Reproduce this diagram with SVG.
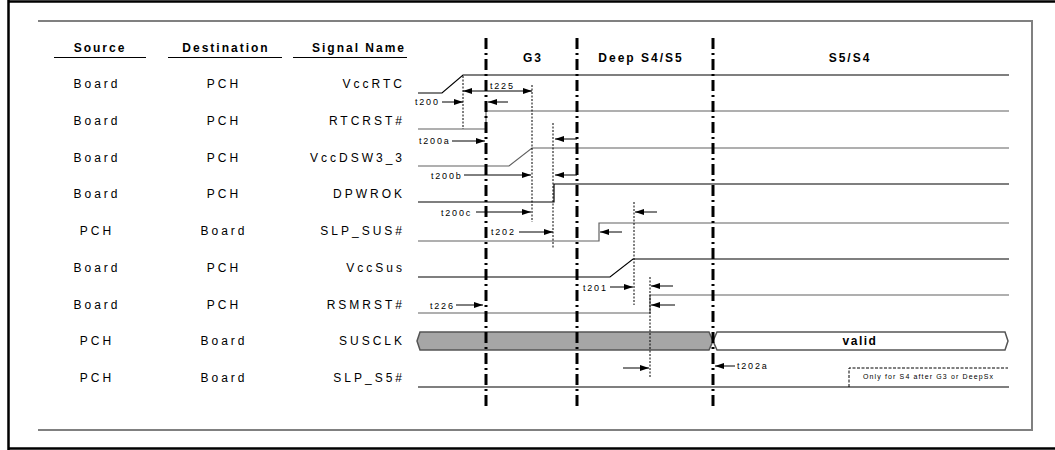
<svg xmlns="http://www.w3.org/2000/svg" width="1055" height="450" viewBox="0 0 1055 450">
<style>
.frame{fill:none;stroke:#000;stroke-width:2.5}
.gframe{fill:none;stroke:#808080;stroke-width:2}
.hdr{font-family:"Liberation Sans",Arial,sans-serif;font-size:12px;font-weight:bold;letter-spacing:2px;fill:#000}
.lbl{font-family:"Liberation Sans",Arial,sans-serif;font-size:12px;letter-spacing:3px;fill:#000}
.t{font-family:"Liberation Sans",Arial,sans-serif;font-size:9px;letter-spacing:1.8px;fill:#000}
.ul{stroke:#000;stroke-width:1}
.sig{fill:none;stroke:#000;stroke-width:1.2}
.sigg{fill:none;stroke:#606060;stroke-width:1.2}
.phase{stroke:#000;stroke-width:3;stroke-dasharray:11 4 2 4}
.dot{stroke:#000;stroke-width:1;stroke-dasharray:2 1.5}
.arr{stroke:#000;stroke-width:1;fill:none;marker-end:url(#ah)}
</style>
<defs>
<marker id="ah" markerWidth="9" markerHeight="6" refX="9" refY="3" orient="auto-start-reverse" markerUnits="userSpaceOnUse">
<path d="M0,0 L9,3 L0,6 z" fill="#000"/>
</marker>
</defs>
<g id="frame">
<path class="frame" d="M8.5,0 V450 M8,1.5 H1055 M8,448.5 H1055"/>
<path class="gframe" d="M38,21 H1032 V430 H38"/>
</g>
<g id="headers">
<text class="hdr" x="100" y="52" text-anchor="middle">Source</text>
<line class="ul" x1="54" y1="57.5" x2="146" y2="57.5"/>
<text class="hdr" x="226" y="52" text-anchor="middle">Destination</text>
<line class="ul" x1="168" y1="57.5" x2="282" y2="57.5"/>
<text class="hdr" x="359" y="52" text-anchor="middle">Signal Name</text>
<line class="ul" x1="293" y1="57.5" x2="407" y2="57.5"/>
<text class="hdr" x="533" y="62" text-anchor="middle">G3</text>
<text class="hdr" x="641" y="62" text-anchor="middle">Deep S4/S5</text>
<text class="hdr" x="850" y="62" text-anchor="middle">S5/S4</text>
</g>
<g id="labels">
<text class="lbl" x="97" y="88" text-anchor="middle">Board</text>
<text class="lbl" x="224" y="88" text-anchor="middle">PCH</text>
<text class="lbl" x="405" y="88" text-anchor="end">VccRTC</text>
<text class="lbl" x="97" y="125" text-anchor="middle">Board</text>
<text class="lbl" x="224" y="125" text-anchor="middle">PCH</text>
<text class="lbl" x="405" y="125" text-anchor="end">RTCRST#</text>
<text class="lbl" x="97" y="161.5" text-anchor="middle">Board</text>
<text class="lbl" x="224" y="161.5" text-anchor="middle">PCH</text>
<text class="lbl" x="405" y="161.5" text-anchor="end">VccDSW3_3</text>
<text class="lbl" x="97" y="198" text-anchor="middle">Board</text>
<text class="lbl" x="224" y="198" text-anchor="middle">PCH</text>
<text class="lbl" x="405" y="198" text-anchor="end">DPWROK</text>
<text class="lbl" x="97" y="235" text-anchor="middle">PCH</text>
<text class="lbl" x="224" y="235" text-anchor="middle">Board</text>
<text class="lbl" x="405" y="235" text-anchor="end">SLP_SUS#</text>
<text class="lbl" x="97" y="272" text-anchor="middle">Board</text>
<text class="lbl" x="224" y="272" text-anchor="middle">PCH</text>
<text class="lbl" x="405" y="272" text-anchor="end">VccSus</text>
<text class="lbl" x="97" y="308.5" text-anchor="middle">Board</text>
<text class="lbl" x="224" y="308.5" text-anchor="middle">PCH</text>
<text class="lbl" x="405" y="308.5" text-anchor="end">RSMRST#</text>
<text class="lbl" x="97" y="345" text-anchor="middle">PCH</text>
<text class="lbl" x="224" y="345" text-anchor="middle">Board</text>
<text class="lbl" x="405" y="345" text-anchor="end">SUSCLK</text>
<text class="lbl" x="97" y="382" text-anchor="middle">PCH</text>
<text class="lbl" x="224" y="382" text-anchor="middle">Board</text>
<text class="lbl" x="405" y="382" text-anchor="end">SLP_S5#</text>
</g>
<g id="signals">
<path class="sig" d="M418,93 H442 L463,75 H1009"/>
<path class="sigg" d="M418,129 H486 V111 H1009"/>
<path class="sigg" d="M418,166 H509 L532,148 H1009"/>
<path class="sig" d="M418,202 H554 V184 H1009"/>
<path class="sigg" d="M418,241 H599 V223 H1009"/>
<path class="sig" d="M418,277 H610 L633,259 H1009"/>
<path class="sigg" d="M418,313 H650 V295 H1009"/>
<path d="M417,341 L420,332 H709 L713,341 L709,350 H420 Z" fill="#a6a6a6" stroke="#555" stroke-width="1.5"/>
<path d="M713,341 L717,332 H1005 L1008,341 L1005,350 H717 Z" fill="#fff" stroke="#555" stroke-width="1.5"/>
<text class="hdr" x="860" y="345" text-anchor="middle" style="letter-spacing:1.5px">valid</text>
<path class="sig" d="M418,387 H1009"/>
<path d="M849,387 V368 H1008" fill="none" stroke="#000" stroke-width="1" stroke-dasharray="3 1.5"/>
<text x="863" y="379" font-family="Liberation Sans, Arial, sans-serif" font-size="7" textLength="130" lengthAdjust="spacing">Only for S4 after G3 or DeepSx</text>
</g>
<g id="phases">
<line class="phase" x1="486" y1="38" x2="486" y2="406"/>
<line class="phase" x1="577" y1="38" x2="577" y2="406"/>
<line class="phase" x1="713" y1="38" x2="713" y2="406"/>
</g>
<g id="connectors">
<line class="dot" x1="463" y1="76" x2="463" y2="129"/>
<line class="dot" x1="532" y1="85" x2="532" y2="222"/>
<line class="dot" x1="553" y1="123" x2="553" y2="248"/>
<line class="dot" x1="634" y1="202" x2="634" y2="305"/>
<line class="dot" x1="650" y1="277" x2="650" y2="377"/>
<line class="arr" x1="442" y1="102" x2="463" y2="102"/>
<line class="arr" x1="508" y1="102" x2="488" y2="102"/>
<line class="arr" x1="463" y1="91" x2="532" y2="91" style="marker-start:url(#ah)"/>
<line class="arr" x1="452" y1="141" x2="485" y2="141"/>
<line class="arr" x1="577" y1="139" x2="555" y2="139"/>
<line class="arr" x1="464" y1="175" x2="531" y2="175"/>
<line class="arr" x1="577" y1="175" x2="555" y2="175"/>
<line class="arr" x1="476" y1="212" x2="531" y2="212"/>
<line class="arr" x1="519" y1="232" x2="553" y2="232"/>
<line class="arr" x1="657" y1="212" x2="635" y2="212"/>
<line class="arr" x1="622" y1="232" x2="600" y2="232"/>
<line class="arr" x1="610" y1="287" x2="633" y2="287"/>
<line class="arr" x1="673" y1="286" x2="651" y2="286"/>
<line class="arr" x1="675" y1="305" x2="651" y2="305"/>
<line class="arr" x1="456" y1="305" x2="483" y2="305"/>
<line class="arr" x1="623" y1="368" x2="649" y2="368"/>
<line class="arr" x1="735" y1="366" x2="715" y2="366"/>
</g>
<g id="timing-labels">
<text class="t" x="415" y="105">t200</text>
<text class="t" x="490" y="88.5">t225</text>
<text class="t" x="419" y="144">t200a</text>
<text class="t" x="431" y="178.5">t200b</text>
<text class="t" x="441" y="215.5">t200c</text>
<text class="t" x="491" y="235">t202</text>
<text class="t" x="583" y="290.5">t201</text>
<text class="t" x="430" y="308.5">t226</text>
<text class="t" x="737" y="369">t202a</text>
</g>
</svg>
